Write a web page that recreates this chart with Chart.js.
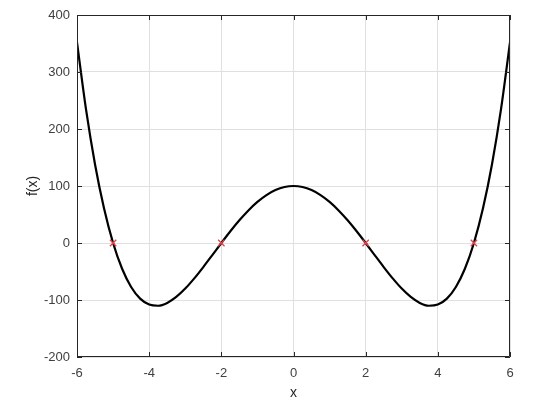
<!DOCTYPE html>
<html><head><meta charset="utf-8">
<script src="https://cdn.jsdelivr.net/npm/chart.js@4/dist/chart.umd.min.js"></script>
<style>html,body{margin:0;padding:0;background:#fff}#wrap{width:536px;height:412px}</style>
</head><body><div id="wrap"><canvas id="c" width="536" height="412"></canvas></div>
<script>
const xValues = [-6,-5.75,-5.5,-5.25,-5,-4.75,-4.5,-4.25,-4,-3.75,-3.5,-3.25,-3,-2.75,-2.5,-2.25,-2,-1.75,-1.5,-1.25,-1,-0.75,-0.5,-0.25,0,0.25,0.5,0.75,1,1.25,1.5,1.75,2,2.25,2.5,2.75,3,3.25,3.5,3.75,4,4.25,4.5,4.75,5,5.25,5.5,5.75,6];
const fValues = [352,234.3,137.8,60.4,0,-45.2,-77.2,-97.6,-108,-110.1,-105.2,-94.7,-80,-62.1,-42.2,-21.2,0,20.6,39.8,57.1,72,84,92.8,98.2,100,98.2,92.8,84,72,57.1,39.8,20.6,0,-21.2,-42.2,-62.1,-80,-94.7,-105.2,-110.1,-108,-97.6,-77.2,-45.2,0,60.4,137.8,234.3,352];
const rootX = [-5,-2,2,5];
const rootY = [0,0,0,0];
const xTicks = [-6,-4,-2,0,2,4,6];
const yTicks = [-200,-100,0,100,200,300,400];
const xLabel = 'x';
const yLabel = 'f(x)';

const FONT = '"Liberation Sans", Arial, sans-serif';
const boxPlugin = {
  id: 'box',
  afterDatasetsDraw(chart) {
    const {ctx, chartArea: a, scales} = chart;
    ctx.save();
    ctx.strokeStyle = '#262626';
    ctx.lineWidth = 1;
    ctx.beginPath();
    ctx.rect(a.left + 0.5, a.top + 0.5, a.right - a.left - 1, a.bottom - a.top - 1);
    xTicks.forEach(v => {
      const px = Math.round(scales.x.getPixelForValue(v)) + 0.5;
      ctx.moveTo(px, a.bottom); ctx.lineTo(px, a.bottom - 5);
      ctx.moveTo(px, a.top); ctx.lineTo(px, a.top + 5);
    });
    yTicks.forEach(v => {
      const py = Math.round(scales.y.getPixelForValue(v)) + 0.5;
      ctx.moveTo(a.left, py); ctx.lineTo(a.left + 5, py);
      ctx.moveTo(a.right, py); ctx.lineTo(a.right - 5, py);
    });
    ctx.stroke();
    ctx.restore();
  }
};

new Chart(document.getElementById('c'), {
  type: 'scatter',
  data: {
    datasets: [
      {
        data: xValues.map((x, i) => ({x, y: fValues[i]})),
        showLine: true, borderColor: '#000', borderWidth: 2.2,
        pointRadius: 0, tension: 0.4, cubicInterpolationMode: 'monotone', order: 2
      },
      {
        data: rootX.map((x, i) => ({x, y: rootY[i]})),
        showLine: false, pointStyle: 'crossRot', pointRadius: 4.5,
        borderColor: '#e0434a', borderWidth: 1.3, order: 1
      }
    ]
  },
  options: {
    responsive: false, animation: false, devicePixelRatio: 1,
    layout: {padding: {top: 15, right: 26, left: 0, bottom: 0}},
    plugins: {legend: {display: false}, tooltip: {enabled: false}},
    scales: {
      x: {
        type: 'linear', min: -6, max: 6,
        afterBuildTicks(s) { s.ticks = xTicks.map(v => ({value: v})); },
        afterFit(s) { s.height = 55; },
        grid: {color: '#e0e0e0', drawTicks: false, drawOnChartArea: true},
        border: {display: false},
        ticks: {padding: 9, color: '#404040', font: {family: FONT, size: 13}, maxRotation: 0},
        title: {display: true, text: xLabel, color: '#262626', font: {family: FONT, size: 14}, padding: {top: 2, bottom: 10}}
      },
      y: {
        type: 'linear', min: -200, max: 400,
        afterBuildTicks(s) { s.ticks = yTicks.map(v => ({value: v})); },
        afterFit(s) { s.width = 77; },
        grid: {color: '#e0e0e0', drawTicks: false},
        border: {display: false},
        ticks: {padding: 7, color: '#404040', font: {family: FONT, size: 13}},
        title: {display: true, text: yLabel, color: '#262626', font: {family: FONT, size: 14}, padding: {top: 25, bottom: 0}}
      }
    }
  },
  plugins: [boxPlugin]
});
</script></body></html>
